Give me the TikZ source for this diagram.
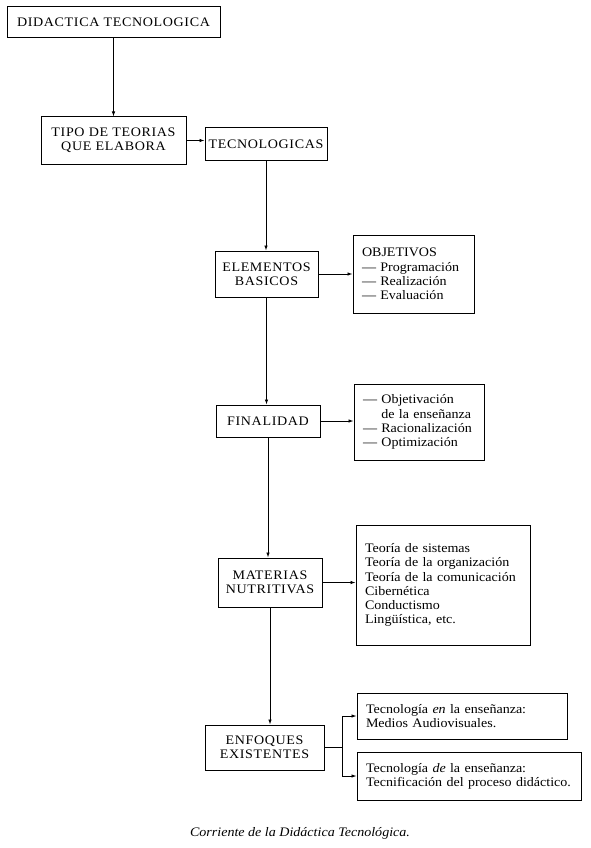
\documentclass[tikz,border=0pt]{standalone}
\usepackage{fontspec}
\setmainfont{Liberation Serif}[FakeStretch=1.08]
\usepackage{tikz}
\usepackage{xcolor}
\usetikzlibrary{arrows.meta}

\begin{document}
\begin{tikzpicture}[x=1pt,y=-1pt,
		font=\fontsize{13}{14.2}\selectfont,
		caja/.style={draw,line width=1pt,align=center,inner sep=0pt,font=\fontsize{13}{14.2}\selectfont\addfontfeature{LetterSpace=5}},
		lista/.style={draw,line width=1pt,align=left,inner xsep=9pt,inner ysep=0pt},
		flecha/.style={-{Latex[length=5pt,width=3.5pt]},line width=0.8pt}]
			\useasboundingbox (0,0) rectangle (591,848);

			\node[caja,minimum width=213pt,minimum height=31pt] (didactica) at (113.5,22.5) {DIDACTICA TECNOLOGICA};
			\node[caja,minimum width=145pt,minimum height=47pt] (tipo) at (113.5,140.5) {TIPO DE TEORIAS\\QUE ELABORA};
			\node[caja,minimum width=122pt,minimum height=32pt] (tecnologicas) at (266,144) {TECNOLOGICAS};
			\node[caja,minimum width=103pt,minimum height=46pt] (elementos) at (266.5,274) {ELEMENTOS\\BASICOS};
			\node[caja,minimum width=104pt,minimum height=32pt] (finalidad) at (268,421) {FINALIDAD};
			\node[caja,minimum width=104pt,minimum height=49pt] (materias) at (270,582.5) {MATERIAS\\NUTRITIVAS};
			\node[caja,minimum width=119pt,minimum height=45pt] (enfoques) at (264.5,747.5) {ENFOQUES\\EXISTENTES};

			\node[lista,text width=103pt,minimum height=78pt] (objetivos) at (413.5,274)
			{
				OBJETIVOS\\
				--- Programación\\
				--- Realización\\
				--- Evaluación
			};
			\node[lista,text width=112pt,minimum height=76pt] (fines) at (419,422)
			{
				--- Objetivación\\
				\phantom{--- }de la enseñanza\\
				--- Racionalización\\
				--- Optimización
			};
			\node[lista,text width=156pt,minimum height=120pt] (teorias) at (443,585)
			{
				Teoría de sistemas\\
				Teoría de la organización\\
				Teoría de la comunicación\\
				Cibernética\\
				Conductismo\\
				Lingüística, etc.
			};
			\node[lista,text width=192pt,minimum height=46pt] (medios) at (462,716)
			{
				Tecnología \textit{en} la enseñanza:\\
				Medios Audiovisuales.
			};
			\node[lista,text width=206pt,minimum height=48pt] (proceso) at (469,776)
			{
				Tecnología \textit{de} la enseñanza:\\
				Tecnificación del proceso didáctico.
			};

			\node (pie) at (300,833) {\textit{Corriente de la Didáctica Tecnológica.}};

			\draw[flecha] (didactica.south) -- (tipo.north);
			\draw[flecha] (tipo.east) -- (tipo.east -| tecnologicas.west);
			\draw[flecha] (tecnologicas.south) -- (tecnologicas.south |- elementos.north);
			\draw[flecha] (elementos.east) -- (objetivos.west);
			\draw[flecha] (elementos.south) -- (elementos.south |- finalidad.north);
			\draw[flecha] (finalidad.east) -- (finalidad.east -| fines.west);
			\draw[flecha] (finalidad.south) -- (finalidad.south |- materias.north);
			\draw[flecha] (materias.east) -- (materias.east -| teorias.west);
			\draw[flecha] (materias.south) -- (materias.south |- enfoques.north);

			\coordinate (rama) at (342,747.5);
			\draw[line width=0.8pt] (enfoques.east) -- (rama);
			\draw[flecha] (rama) |- (medios.west);
			\draw[flecha] (rama) |- (proceso.west);
		\end{tikzpicture}
\end{document}
